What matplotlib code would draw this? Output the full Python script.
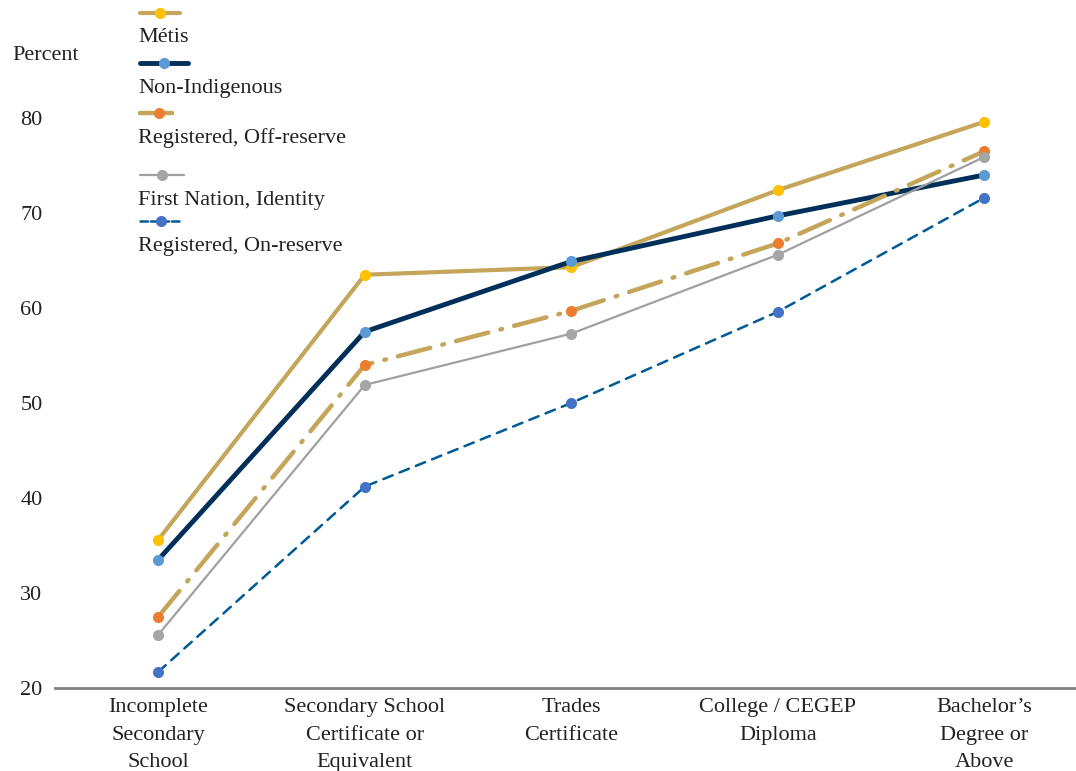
import matplotlib
matplotlib.use('Agg')
import matplotlib.pyplot as plt
from matplotlib.lines import Line2D

plt.rcParams['font.family'] = ['Liberation Serif', 'DejaVu Serif']

categories = ['Incomplete\nSecondary\nSchool', 'Secondary School\nCertificate or\nEquivalent',
              'Trades\nCertificate', 'College / CEGEP\nDiploma', "Bachelor\u2019s\nDegree or\nAbove"]
metis = [35.6, 63.5, 64.3, 72.4, 79.6]
non_indigenous = [33.5, 57.5, 64.9, 69.7, 74.0]
registered_off = [27.5, 54.0, 59.7, 66.8, 76.5]
first_nation = [25.6, 51.9, 57.3, 65.6, 75.9]
registered_on = [21.7, 41.2, 50.0, 59.6, 71.6]
yticks = [20, 30, 40, 50, 60, 70, 80]

W, H = 1076, 771
fig = plt.figure(figsize=(W / 100, H / 100), dpi=100, facecolor='white')
ax = fig.add_axes([55 / W, 83 / H, 1020 / W, 665 / H])

x = range(len(categories))
styles = [
    ('M\u00e9tis', metis, dict(color='#C4A55A', lw=3.0, ls='-', mfc='#FFC000'), 40),
    ('Non-Indigenous', non_indigenous, dict(color='#002F5A', lw=3.5, ls='-', mfc='#5B9BD5'), 48),
    ('Registered, Off-reserve', registered_off,
     dict(color='#C4A55A', lw=3.2, ls=(0, (7.5, 2.8, 0.4, 2.8)), mfc='#ED7D31'), 37),
    ('First Nation, Identity', first_nation, dict(color='#A0A0A0', lw=1.6, ls='-', mfc='#A5A5A5'), 44),
    ('Registered, On-reserve', registered_on, dict(color='#005A96', lw=1.8, ls=(0, (4, 3)), mfc='#4472C4'), 41),
]

for label, vals, st, _ in styles:
    ax.plot(x, vals, color=st['color'], lw=st['lw'], ls=st['ls'], marker='o', markersize=8,
            markerfacecolor=st['mfc'], markeredgewidth=0, dash_capstyle='round',
            solid_capstyle='butt', zorder=3)

ax.set_xlim(-0.5, -0.5 + 1020 / 206.5)
ax.set_ylim(20, 90)
ax.set_yticks(yticks)
ax.set_xticks(list(x))
ax.set_xticklabels([''] * len(categories))
ax.tick_params(axis='both', length=0, labelsize=16, labelcolor='#222222')
ax.tick_params(axis='y', pad=9)
# category labels with wider line spacing
for i, cat in enumerate(categories):
    ax.text(i, -0.0155, cat, transform=ax.get_xaxis_transform(), ha='center', va='top',
            fontsize=16, color='#222222', linespacing=1.6)
for s in ['top', 'right', 'left']:
    ax.spines[s].set_visible(False)
ax.spines['bottom'].set_color('#7F7F7F')
ax.spines['bottom'].set_linewidth(2)

fig.text(12 / W, 1 - 56 / H, 'Percent', fontsize=16, color='#222222', va='center', ha='left')

# legend: handle above the label
handle_y = [13, 63, 113, 175, 221]
text_y = [38, 89, 138, 200, 246]
for (label, vals, st, length), hy, ty in zip(styles, handle_y, text_y):
    x0, x1 = 140 / W, (140 + length) / W
    yy = 1 - hy / H
    fig.add_artist(Line2D([x0, x1], [yy, yy], color=st['color'], lw=st['lw'],
                          ls='-' if st['ls'] == '-' else (0, (3, 1.2)), solid_capstyle='round',
                          dash_capstyle='round', transform=fig.transFigure))
    fig.add_artist(Line2D([(x0 + x1) / 2], [yy], marker='o', markersize=8, markeredgewidth=0,
                          markerfacecolor=st['mfc'], lw=0, transform=fig.transFigure))
    fig.text(138 / W, 1 - ty / H, label, fontsize=16, color='#222222', va='center', ha='left')

fig.savefig('out.png', dpi=100, facecolor='white')
